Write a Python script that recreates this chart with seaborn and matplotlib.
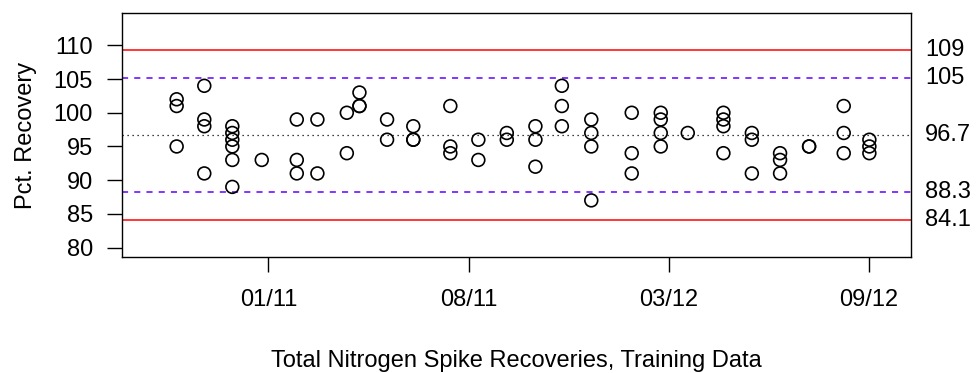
import matplotlib
matplotlib.use("Agg")
import matplotlib.pyplot as plt
import seaborn as sns
import pandas as pd

# ---- data ----
sample_x = [-45.8]*3 + [-32.0]*4 + [-18.0]*6 + [-3.3] + [14.2]*3 + [24.5]*2 + [39.2]*2 + [45.5]*3 + \
           [59.3]*2 + [72.4]*3 + [90.9]*3 + [104.9]*2 + [119.1]*2 + [133.4]*3 + [146.6]*3 + [161.3]*4 + \
           [181.5]*3 + [196.0]*4 + [209.5] + [227.3]*4 + [241.5]*3 + [255.6]*3 + [270.1]*2 + [287.4]*3 + [300.2]*3
recovery = [102, 101, 95,
            104, 99, 98, 91,
            98, 97, 96, 95, 93, 89,
            93,
            99, 93, 91,
            99, 91,
            100, 94,
            103, 101, 101,
            99, 96,
            98, 96, 96,
            101, 95, 94,
            96, 93,
            97, 96,
            98, 96, 92,
            104, 101, 98,
            99, 97, 95, 87,
            100, 94, 91,
            100, 99, 97, 95,
            97,
            100, 99, 98, 94,
            97, 96, 91,
            94, 93, 91,
            95, 95,
            101, 97, 94,
            96, 95, 94]
tick_pos = [0, 100, 200, 300]
tick_labels = ["01/11", "08/11", "03/12", "09/12"]
y_ticks = [80, 85, 90, 95, 100, 105, 110]
center = 96.7
warn_limits = [88.3, 105.1]
ctrl_limits = [84.1, 109.3]
limit_labels = ["109", "105", "96.7", "88.3", "84.1"]
limit_values = [109.3, 105.1, 96.7, 88.3, 84.1]

df = pd.DataFrame({"x": sample_x, "y": recovery})

sns.set_style("white")
plt.rcParams["font.family"] = ["Liberation Sans", "DejaVu Sans"]
plt.rcParams["text.color"] = "black"
plt.rcParams["axes.labelcolor"] = "black"
plt.rcParams["xtick.color"] = "black"
plt.rcParams["ytick.color"] = "black"

fig = plt.figure(figsize=(9.76, 3.73), dpi=100)
ax = fig.add_axes([122/976, 1-257/373, (911-122)/976, (257-13)/373])

xmin, xmax = -73.1, 321.0
for v in ctrl_limits:
    ax.axhline(v, color="#ff0000", lw=1.1, zorder=1)
for v in warn_limits:
    ax.axhline(v, color="#5f00ff", lw=1.1, ls=(0, (4, 4)), zorder=1)
ax.axhline(center, color="black", lw=0.9, ls=(0, (1, 3)), zorder=1)

sns.scatterplot(data=df, x="x", y="y", ax=ax, marker="o", s=85,
                color="black", edgecolor="black", linewidth=1.2, zorder=3, legend=False)
ax.collections[-1].set_facecolor("none")

ax.set_xlim(xmin, xmax)
ax.set_ylim(78.6, 114.8)
ax.set_xticks(tick_pos)
ax.set_xticklabels(tick_labels)
ax.set_yticks(y_ticks)
ax.tick_params(axis="both", which="major", direction="out", length=11, width=1.0,
               color="black", labelcolor="black", labelsize=17, bottom=True, left=True)
ax.tick_params(axis="x", pad=12)
ax.tick_params(axis="y", pad=10)
for s in ax.spines.values():
    s.set_color("black")
    s.set_linewidth(1.0)

ax.set_xlabel("Total Nitrogen Spike Recoveries, Training Data", fontsize=17, labelpad=28)
ax.set_ylabel("Pct. Recovery", fontsize=17, labelpad=12)

for lab, v in zip(limit_labels, limit_values):
    ax.annotate(lab, xy=(1, v), xycoords=("axes fraction", "data"),
                xytext=(10, 0), textcoords="offset points",
                ha="left", va="center", fontsize=17, annotation_clip=False)

fig.savefig("out.png", dpi=100)
